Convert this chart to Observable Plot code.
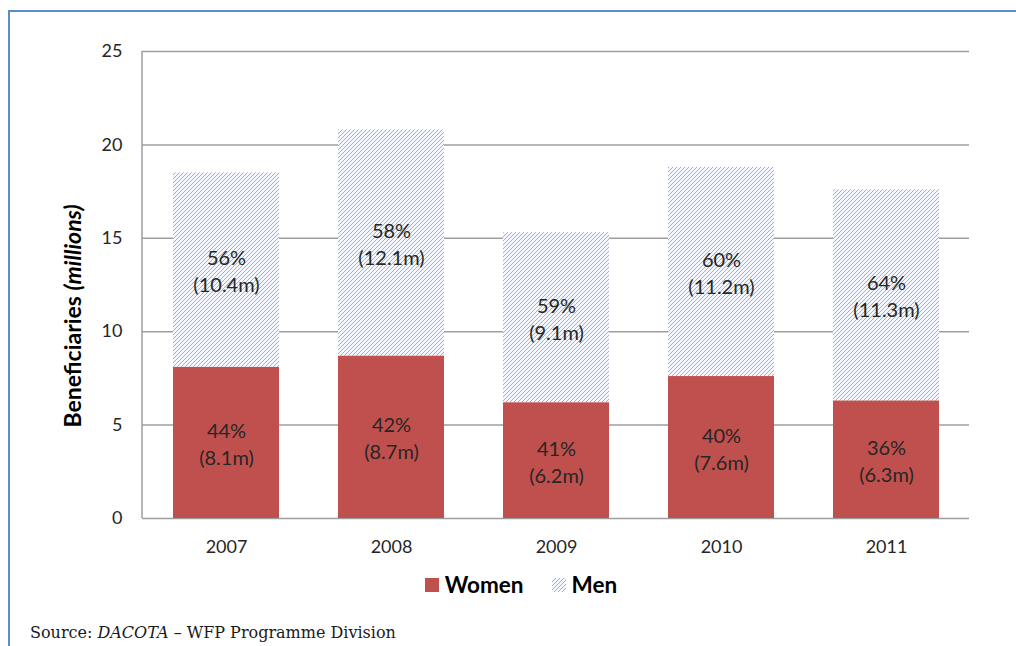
<!DOCTYPE html>
<html>
<head>
<meta charset="utf-8">
<script src="https://cdn.jsdelivr.net/npm/d3@7"></script>
<script src="https://cdn.jsdelivr.net/npm/@observablehq/plot@0.6"></script>
<style>
  html, body { margin: 0; padding: 0; background: #fff; }
  #page { position: relative; width: 1016px; height: 646px; overflow: hidden; font-family: Lato, "Open Sans", sans-serif; }
  #frame { position: absolute; left: 8px; top: 10px; width: 1020px; height: 650px; border-left: 2px solid #5B8BD0; border-top: 2px solid #5B8BD0; box-sizing: border-box; }
  #chart { position: absolute; left: 0; top: 0; }
  #ytitle { position: absolute; left: 72px; top: 316px; transform: translate(-50%, -50%) rotate(-90deg); white-space: nowrap; font-weight: 700; font-size: 23px; color: #000; }
  #legend { position: absolute; left: 13px; top: 571px; width: 1016px; display: flex; justify-content: center; align-items: center; font-weight: 700; font-size: 22.5px; color: #000; }
  #legend .sw { width: 14px; height: 14px; display: inline-block; margin-right: 6px; }
  #legend .item { display: flex; align-items: center; margin: 0 14px; }
  #source { position: absolute; left: 30px; top: 623px; font-family: "DejaVu Serif", serif; font-size: 16px; color: #1a1a1a; white-space: nowrap; }
</style>
</head>
<body>
<div id="page">
  <div id="frame"></div>
  <div id="chart"></div>
  <div id="ytitle">Beneficiaries <i>(millions)</i></div>
  <div id="legend">
    <div class="item"><span class="sw" style="background:#C0504D"></span>Women</div>
    <div class="item"><svg class="sw" width="14" height="14" shape-rendering="crispEdges"><defs><pattern id="hatchLegend" patternUnits="userSpaceOnUse" width="4" height="4"><rect width="4" height="4" fill="#F4F8FE"/><g fill="#8DB2EE"><rect x="0" y="3" width="1" height="1"/><rect x="1" y="2" width="1" height="1"/><rect x="2" y="1" width="1" height="1"/><rect x="3" y="0" width="1" height="1"/></g></pattern></defs><rect width="14" height="14" fill="url(#hatchLegend)"/></svg>Men</div>
  </div>
  <div id="source">Source: <i>DACOTA</i> – WFP Programme Division</div>
</div>
<script>
const years = ["2007", "2008", "2009", "2010", "2011"];
const women = [8.1, 8.7, 6.2, 7.6, 6.3];
const men = [10.4, 12.1, 9.1, 11.2, 11.3];
const womenPct = [44, 42, 41, 40, 36];
const menPct = [56, 58, 59, 60, 64];
const yTicks = [0, 5, 10, 15, 20, 25];

const rows = years.map((y, i) => ({
  year: y, women: women[i], men: men[i], womenPct: womenPct[i], menPct: menPct[i]
}));

const leftAxisLine = (index, scales, values, dimensions) => {
  const g = d3.create("svg:line")
    .attr("x1", dimensions.marginLeft).attr("x2", dimensions.marginLeft)
    .attr("y1", scales.y(25)).attr("y2", scales.y(0))
    .attr("stroke", "#9E9E9E").attr("stroke-width", 1.5);
  return g.node();
};

const plot = Plot.plot({
  width: 1016,
  height: 560,
  marginLeft: 142,
  marginRight: 47,
  marginTop: 51,
  marginBottom: 42,
  style: { fontFamily: "Lato, 'Open Sans', sans-serif", fontSize: "18px", color: "#262626", background: "transparent" },
  x: { domain: years, paddingInner: 0.36, paddingOuter: 0.18, label: null },
  y: { domain: [0, 25], ticks: yTicks, label: null },
  marks: [
    Plot.ruleY(yTicks, { stroke: "#9E9E9E", strokeWidth: 1.5 }),
    leftAxisLine,
    Plot.barY(rows, { x: "year", y1: 0, y2: "women", fill: "#C0504D" }),
    Plot.barY(rows, { x: "year", y1: "women", y2: d => d.women + d.men, fill: "url(#hatch)" }),
    Plot.text(rows, { x: "year", y: d => d.women / 2, text: d => `${d.womenPct}%\n(${d.women}m)`, lineHeight: 1.35, fill: "#262626", fontSize: 20 }),
    Plot.text(rows, { x: "year", y: d => d.women + d.men / 2, text: d => `${d.menPct}%\n(${d.men}m)`, lineHeight: 1.35, fill: "#262626", fontSize: 20 }),
    Plot.axisX({ tickSize: 0, tickPadding: 22, fontSize: 18, fill: "#262626", label: null }),
    Plot.axisY({ ticks: yTicks, tickSize: 0, tickPadding: 20, fontSize: 18, fill: "#262626", label: null })
  ]
});

const svg = d3.select(plot);
const defs = svg.insert("defs", ":first-child");
const pat = defs.append("pattern").attr("id", "hatch").attr("patternUnits", "userSpaceOnUse").attr("width", 4).attr("height", 4).attr("shape-rendering", "crispEdges");
pat.append("rect").attr("width", 4).attr("height", 4).attr("fill", "#F4F8FE");
const pg = pat.append("g").attr("fill", "#8DB2EE");
[[0, 3], [1, 2], [2, 1], [3, 0]].forEach(([x, y]) => pg.append("rect").attr("x", x).attr("y", y).attr("width", 1).attr("height", 1));

document.getElementById("chart").appendChild(plot);
</script>
</body>
</html>
